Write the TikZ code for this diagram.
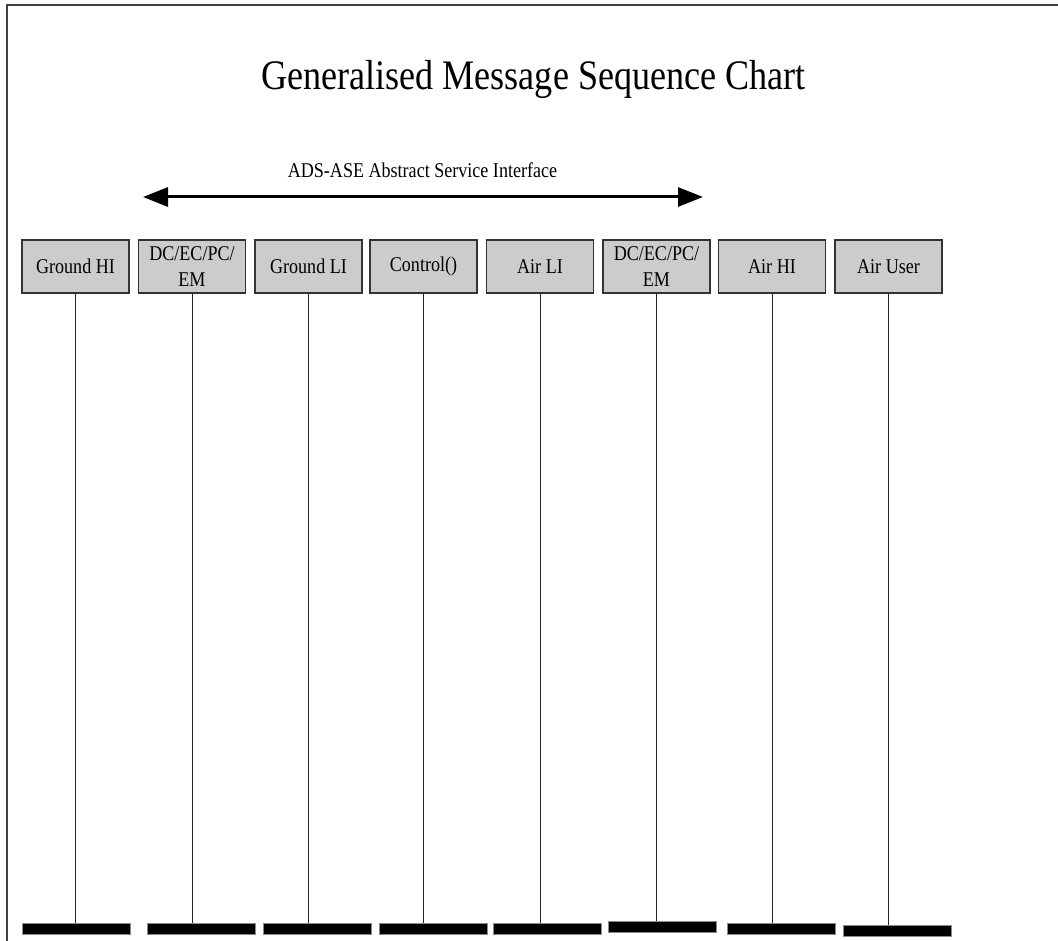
\documentclass[tikz,border=0pt]{standalone}
\usepackage{fontspec}
\setmainfont{Liberation Serif}[FakeStretch=0.86]
\usetikzlibrary{arrows.meta}

\begin{document}
\begin{tikzpicture}[x=1pt, y=-1pt,
  entity/.style={rectangle, draw=black!80, line width=1.2pt, fill=black!20, minimum width=107pt, minimum height=53pt, inner sep=0pt, align=center, font=\fontsize{21}{26}\selectfont},
  endbar/.style={rectangle, draw=black!45, fill=black, line width=0.6pt, minimum width=108pt, minimum height=11pt, inner sep=0pt},
  lifeline/.style={draw=black!85, line width=0.9pt}]
\useasboundingbox (0,0) rectangle (1058,941);

% Frame
\draw[black!75, line width=1.5pt] (7,941) -- (7,5) -- (1058,5);

% Title
\node[anchor=base, font=\fontsize{42}{50}\selectfont] (title) at (533.5,90) {Generalised Message Sequence Chart};

% Service interface
\node[anchor=base, font=\fontsize{21}{26}\selectfont] (asi) at (422.5,178) {ADS-ASE Abstract Service Interface};
\coordinate (asileft) at (143,197);
\coordinate (asiright) at (703,197);
\draw[{Triangle[length=25pt,width=19pt]}-{Triangle[length=25pt,width=19pt]}, line width=3pt] (asileft) -- (asiright);

% Entities
\node[entity] (groundhi) at (75.5,266.5) {Ground HI};
\node[entity] (gdcecpc) at (192,266.5) {DC/EC/PC/\\EM};
\node[entity] (groundli) at (308.5,266.5) {Ground LI};
\node[entity] (control) at (423.5,266.5) {Control()};
\node[entity] (airli) at (540,266.5) {Air LI};
\node[entity] (adcecpc) at (656.5,266.5) {DC/EC/PC/\\EM};
\node[entity] (airhi) at (772,266.5) {Air HI};
\node[entity] (airuser) at (888.5,266.5) {Air User};

% End bars
\node[endbar] (bar1) at (76,928.5) {};
\node[endbar] (bar2) at (201,928.5) {};
\node[endbar] (bar3) at (317,928.5) {};
\node[endbar] (bar4) at (433,928.5) {};
\node[endbar] (bar5) at (547.5,928.5) {};
\node[endbar] (bar6) at (662,927) {};
\node[endbar] (bar7) at (781,928.5) {};
\node[endbar] (bar8) at (897.5,930.5) {};

% Lifelines
\draw[lifeline] (groundhi.south) -- (groundhi.south |- bar1.north);
\draw[lifeline] (gdcecpc.south) -- (gdcecpc.south |- bar2.north);
\draw[lifeline] (groundli.south) -- (groundli.south |- bar3.north);
\draw[lifeline] (control.south) -- (control.south |- bar4.north);
\draw[lifeline] (airli.south) -- (airli.south |- bar5.north);
\draw[lifeline] (adcecpc.south) -- (adcecpc.south |- bar6.north);
\draw[lifeline] (airhi.south) -- (airhi.south |- bar7.north);
\draw[lifeline] (airuser.south) -- (airuser.south |- bar8.north);
\end{tikzpicture}
\end{document}
